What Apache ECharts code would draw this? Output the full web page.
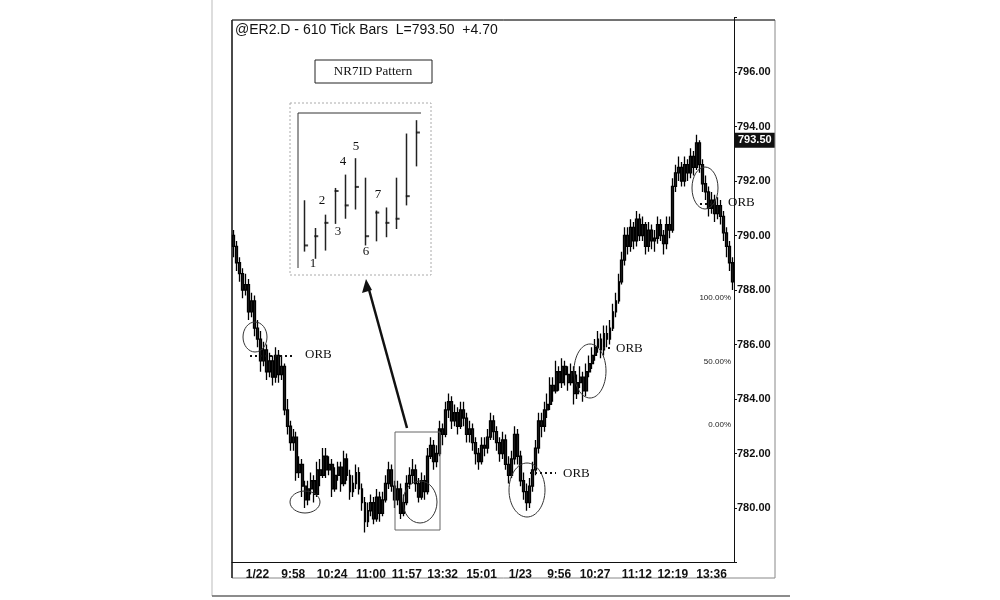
<!DOCTYPE html>
<html><head><meta charset="utf-8">
<script src="https://cdn.jsdelivr.net/npm/echarts@6/dist/echarts.min.js"></script>
<style>html,body{margin:0;background:#fff}#c{width:1000px;height:600px}</style>
</head><body><div id="c"></div>
<script>
const closes=[789.6,789.0,788.6,788.0,788.2,787.2,787.6,786.6,786.2,785.4,
785.8,785.0,785.4,784.8,785.6,784.9,785.2,783.6,783.0,782.4,
782.6,781.3,781.6,780.8,780.3,780.7,781.0,780.5,781.4,781.2,
781.9,781.4,781.6,780.7,781.2,781.5,780.9,781.8,781.2,780.6,
780.9,781.3,780.7,780.2,779.5,779.9,780.2,779.6,780.4,779.8,
780.3,780.9,781.4,780.8,780.3,780.7,779.8,780.2,780.9,781.2,
781.4,780.9,780.4,781.0,780.6,781.9,782.3,781.7,782.0,782.9,
782.7,783.6,783.9,783.2,783.5,783.0,783.6,783.3,782.7,782.9,
782.4,782.0,781.7,782.3,782.2,782.6,783.2,782.8,782.4,782.0,
782.5,781.6,781.2,781.8,782.7,781.9,781.0,780.6,780.2,780.8,
781.4,782.2,783.2,783.0,783.6,783.8,784.5,784.3,785.0,784.6,
785.2,784.9,784.6,785.0,784.2,784.6,784.8,784.3,785.0,785.3,
785.6,785.9,786.2,785.8,786.4,786.2,786.6,787.2,787.6,788.3,
789.1,790.0,789.6,790.3,789.8,790.6,790.0,790.4,789.6,790.2,
789.8,789.9,790.4,790.0,789.7,790.4,790.2,791.8,792.3,792.5,
792.0,792.6,792.3,792.9,792.5,793.4,792.6,791.9,791.6,791.0,
791.3,790.8,791.1,790.7,790.1,789.6,789.0,788.3];
const highs=[790.2,789.8,789.2,788.8,788.6,788.4,787.9,787.8,786.9,786.5,
786.1,786.0,785.7,785.6,785.9,785.8,785.6,785.3,784.0,783.2,
782.9,782.8,781.9,781.8,781.0,781.0,781.3,781.2,781.7,781.8,
782.2,782.2,781.9,781.8,781.5,781.7,781.7,782.1,782.0,781.4,
781.2,781.6,781.5,780.9,780.4,780.2,780.5,780.4,780.7,780.6,
780.6,781.2,781.7,781.6,781.0,781.0,780.9,780.5,781.2,781.5,
781.8,781.6,781.1,781.3,781.2,782.2,782.6,782.5,782.3,783.2,
783.1,783.9,784.2,784.1,783.8,783.7,783.9,783.9,783.5,783.2,
783.1,782.6,782.2,782.6,782.6,782.9,783.5,783.4,783.0,782.6,
782.8,782.7,781.9,782.1,783.0,782.9,782.1,781.3,780.9,781.1,
781.7,782.5,783.5,783.5,783.9,784.2,784.8,784.8,785.4,785.2,
785.5,785.4,785.2,785.3,785.2,784.9,785.2,785.0,785.3,785.6,
785.9,786.2,786.5,786.4,786.7,786.7,786.9,787.5,787.9,788.6,
789.4,790.3,790.3,790.6,790.5,790.9,790.8,790.7,790.5,790.5,
790.4,790.2,790.7,790.6,790.2,790.7,790.7,792.1,792.6,792.9,
792.7,792.9,792.8,793.2,793.1,793.7,793.5,792.8,792.2,791.8,
791.6,791.5,791.4,791.3,790.9,790.3,789.8,789.2];
const lows=[789.2,788.7,788.3,787.7,787.8,786.9,787.0,786.3,785.9,785.0,
785.2,784.7,784.8,784.5,784.6,784.6,784.7,783.4,782.7,782.1,
782.1,781.0,781.1,780.4,780.0,780.1,780.5,780.2,780.4,780.8,
781.1,781.1,781.2,780.4,780.6,781.0,780.6,780.8,781.0,780.3,
780.4,780.7,780.5,779.9,779.1,779.3,779.7,779.4,779.5,779.5,
779.7,780.2,780.7,780.6,780.0,780.1,779.6,779.7,780.1,780.7,
780.9,780.6,780.2,780.3,780.3,780.5,781.8,781.4,781.5,781.9,
782.3,782.6,783.3,782.9,783.0,782.7,782.9,783.0,782.4,782.4,
782.1,781.6,781.4,781.6,781.9,782.0,782.5,782.5,782.1,781.7,
781.8,781.4,780.9,781.1,781.6,781.6,780.8,780.3,779.9,780.0,
780.6,781.2,782.0,782.6,782.8,783.3,783.6,783.9,784.2,784.3,
784.4,784.5,784.3,784.5,783.8,784.0,784.4,783.9,784.1,784.8,
785.1,785.4,785.7,785.5,785.6,785.9,786.0,786.5,787.0,787.5,
788.2,788.9,789.3,789.4,789.5,789.6,789.8,789.8,789.3,789.4,
789.5,789.4,789.7,789.8,789.3,789.5,789.9,790.1,791.6,792.0,
791.8,791.8,792.0,792.1,792.2,792.4,792.3,791.6,791.3,790.7,
790.8,790.5,790.6,790.4,789.8,789.2,788.7,788.0];
const firstOpen=790.0;
const lastPrice=793.5;
const tickLabels={8:'1/22',20:'9:58',33:'10:24',46:'11:00',58:'11:57',70:'13:32',83:'15:01',96:'1/23',109:'9:56',121:'10:27',135:'11:12',147:'12:19',160:'13:36'};
// inset (NR7ID) bars, arbitrary units
const insetHigh=[105,78,91,117,130,146,127,95,98,127,170,183];
const insetLow=[55,48,56,82,87,96,61,65,69,77,100,138];
const insetTick=[61,70,83,114,100,118,70,93,83,87,109,171];

const cats=closes.map((_,i)=>String(i));
const ohlc=closes.map((c,i)=>[i===0?firstOpen:closes[i-1],c,lows[i],highs[i]]);
const icats=insetHigh.map((_,i)=>String(i));
const chart=echarts.init(document.getElementById('c'));
const serif='Liberation Serif';
const axFont='Liberation Sans Narrow, Liberation Sans';
const ell=(cx,cy,rx,ry)=>({type:'ellipse',shape:{cx,cy,rx,ry},style:{fill:'none',stroke:'#333',lineWidth:1},z:50});
const orb=(x,y)=>({type:'text',x,y,style:{text:'ORB',font:'13px '+serif,fill:'#111',textVerticalAlign:'middle'},z:50});
const dots=(x1,x2,y)=>({type:'line',shape:{x1,y1:y,x2,y2:y},style:{stroke:'#111',lineWidth:2,lineDash:[2,3]},z:50});
const pct=(t,y)=>({type:'text',x:731,y,style:{text:t,font:'8px Liberation Sans',fill:'#222',textAlign:'right',textVerticalAlign:'middle'},z:50});
const insetNum=(t,x,y)=>({type:'text',x,y,style:{text:t,font:'13px '+serif,fill:'#111',textAlign:'center',textVerticalAlign:'middle'},z:50});
chart.setOption({
 animation:false,
 grid:[{left:232,right:266,top:17.5,bottom:37.5},{left:300,width:122,top:113,height:154}],
 xAxis:[{type:'category',data:cats,gridIndex:0,boundaryGap:true,
   axisLine:{lineStyle:{color:'#111'}},
   axisTick:{interval:(i)=>tickLabels[i]!==undefined,length:4,lineStyle:{color:'#111'}},
   axisLabel:{interval:(i)=>tickLabels[i]!==undefined,formatter:(v)=>tickLabels[v]||'',color:'#111',fontSize:12,fontWeight:'bold',fontFamily:axFont,margin:6},
   splitLine:{show:false}},
  {type:'category',data:icats,gridIndex:1,axisLine:{show:false},axisTick:{show:false},axisLabel:{show:false}}],
 yAxis:[{type:'value',position:'right',min:778,max:798,interval:2,gridIndex:0,
   axisLine:{show:true,lineStyle:{color:'#111'}},axisTick:{show:true,length:3,lineStyle:{color:'#111'}},
   axisLabel:{formatter:(v)=>(v===778||v===798)?'':v.toFixed(2),color:'#111',fontSize:11,fontWeight:'bold',fontFamily:axFont,margin:3},
   splitLine:{show:false}},
  {type:'value',gridIndex:1,min:40,max:190,show:false}],
 series:[
  {type:'candlestick',data:ohlc,xAxisIndex:0,yAxisIndex:0,barWidth:2.4,
   itemStyle:{color:'#222',color0:'#222',borderColor:'#000',borderColor0:'#000',borderWidth:1.3},
   markLine:{symbol:'none',silent:true,data:[{yAxis:lastPrice}],lineStyle:{width:0,color:'#fff'},
     label:{show:true,position:'end',formatter:()=>lastPrice.toFixed(2),backgroundColor:'#111',color:'#fff',fontSize:11,fontWeight:'bold',fontFamily:axFont,padding:[2,3],distance:1}}},
  {type:'candlestick',xAxisIndex:1,yAxisIndex:1,barWidth:1,
   data:insetHigh.map((h,i)=>[insetTick[i],insetTick[i],insetLow[i],h]),
   itemStyle:{color:'#222',color0:'#222',borderColor:'#222',borderColor0:'#222',borderWidth:1.5}},
  {type:'scatter',xAxisIndex:1,yAxisIndex:1,symbol:'rect',symbolSize:[4,2],symbolOffset:[1,0],
   data:insetTick,itemStyle:{color:'#111'}}
 ],
 graphic:[
  {type:'line',shape:{x1:212,y1:0,x2:212,y2:596},style:{stroke:'#bbb',lineWidth:1}},
  {type:'line',shape:{x1:212,y1:596,x2:790,y2:596},style:{stroke:'#666',lineWidth:1.5}},
  {type:'rect',shape:{x:232,y:20,width:543,height:558},style:{fill:'none',stroke:'#888',lineWidth:1}},
  {type:'line',shape:{x1:232,y1:20,x2:775,y2:20},style:{stroke:'#222',lineWidth:1}},
  {type:'line',shape:{x1:232,y1:20,x2:232,y2:578},style:{stroke:'#222',lineWidth:1.5}},
  {type:'text',x:235,y:30,style:{text:'@ER2.D - 610 Tick Bars  L=793.50  +4.70',font:'14px Liberation Sans',fill:'#111',textVerticalAlign:'middle'}},
  {type:'rect',shape:{x:315,y:60,width:117,height:23},style:{fill:'#fff',stroke:'#222',lineWidth:1}},
  {type:'text',x:373,y:72,style:{text:'NR7ID Pattern',font:'13px '+serif,fill:'#111',textAlign:'center',textVerticalAlign:'middle'}},
  {type:'rect',shape:{x:290,y:103,width:141,height:172},style:{fill:'none',stroke:'#aaa',lineWidth:1,lineDash:[2,2]}},
  {type:'polyline',shape:{points:[[298,268],[298,113],[421,113]]},style:{fill:'none',stroke:'#333',lineWidth:1}},
  insetNum('1',313,264),insetNum('2',322,201),insetNum('3',338,232),insetNum('4',343,162),
  insetNum('5',356,147),insetNum('6',366,252),insetNum('7',378,195),
  {type:'line',shape:{x1:407,y1:428,x2:368,y2:286},style:{stroke:'#111',lineWidth:2.5}},
  {type:'polygon',shape:{points:[[366,279],[362,293],[372,290]]},style:{fill:'#111'}},
  {type:'rect',shape:{x:395,y:432,width:45,height:98},style:{fill:'none',stroke:'#666',lineWidth:1},z:50},
  ell(255,337,12,15),ell(305,502,15,11),ell(420,502,17,21),ell(527,490,18,27),ell(590,371,16,27),ell(705,188,13,21),
  dots(250,293,356),orb(305,355),
  dots(530,556,473),orb(563,474),
  dots(603,613,348),orb(616,349),
  dots(700,712,204),orb(728,203),
  pct('100.00%',298),pct('50.00%',362),pct('0.00%',425)
 ]
});
</script></body></html>
